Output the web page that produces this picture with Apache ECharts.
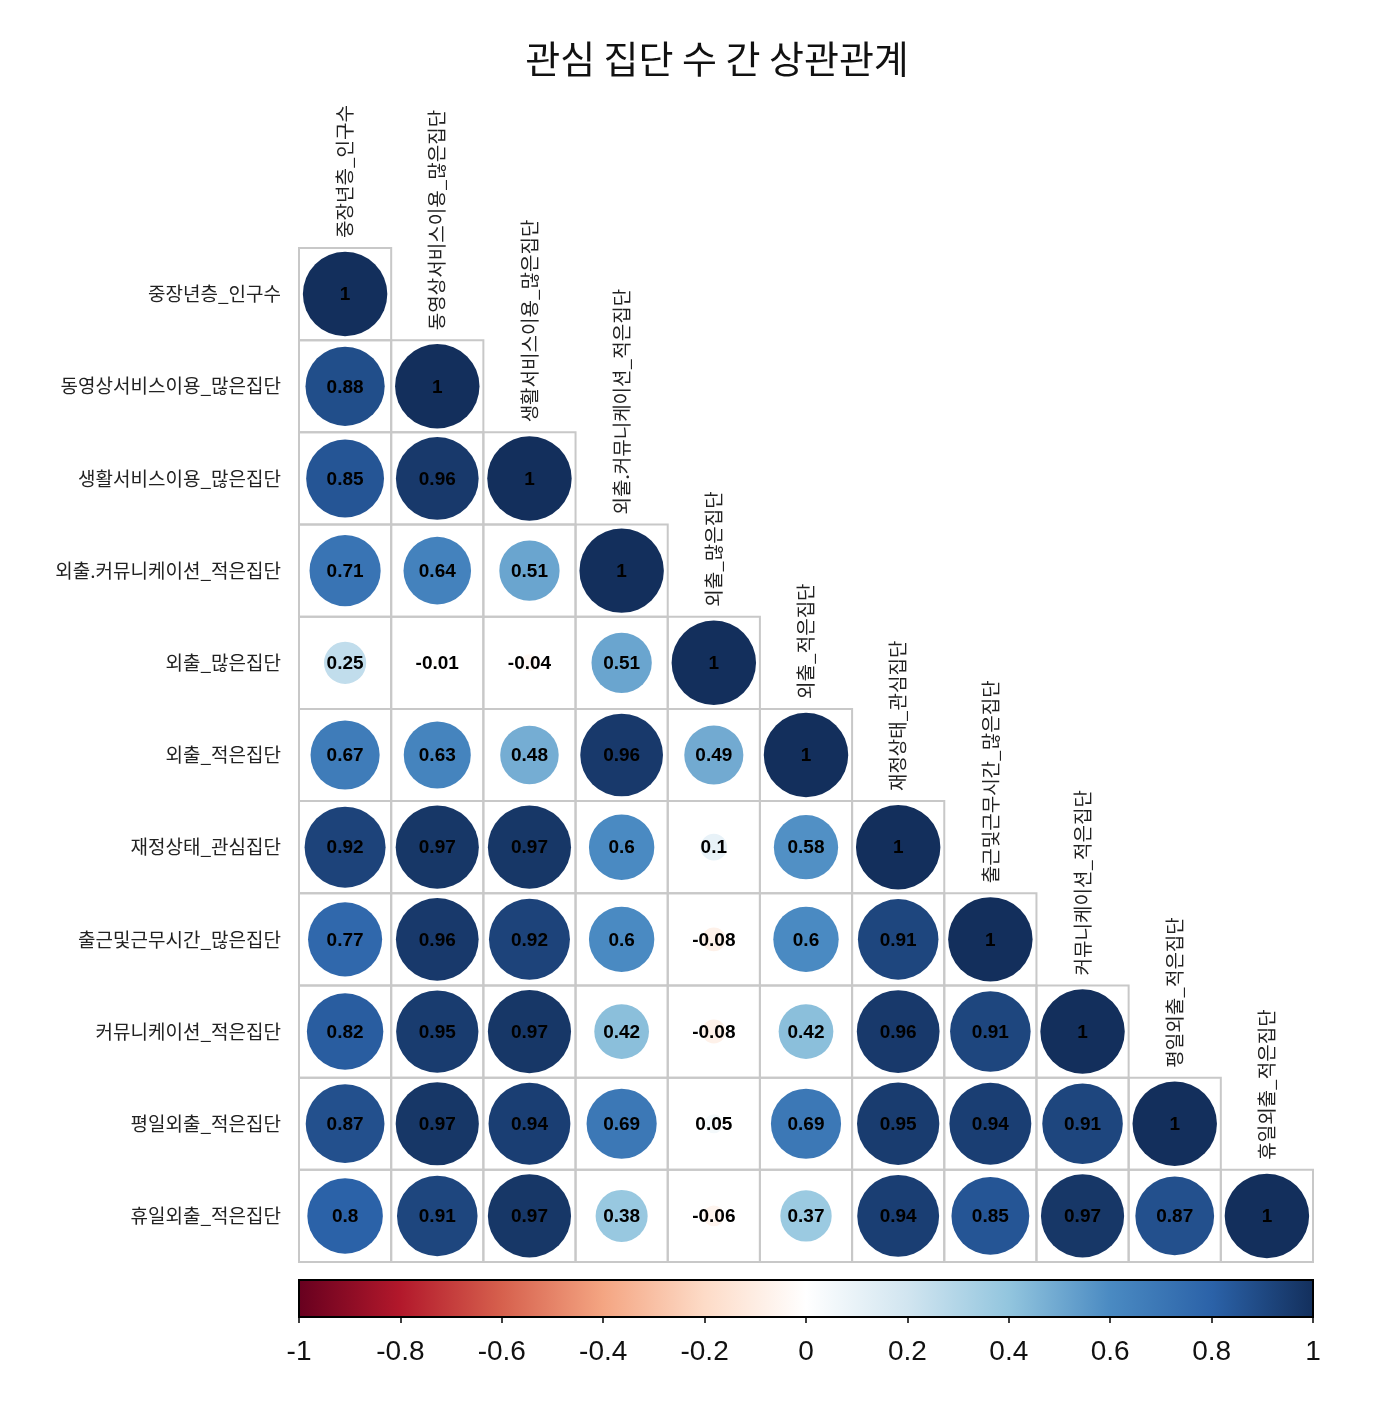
<!DOCTYPE html>
<html>
<head>
<meta charset="utf-8">
<script src="https://cdn.jsdelivr.net/npm/echarts@6/dist/echarts.min.js"></script>
<style>
html,body{margin:0;padding:0;background:#fff;}
#chart{width:1376px;height:1414px;}
</style>
</head>
<body>
<div id="chart"></div>
<script>
const titleText = '관심 집단 수 간 상관관계';
const labels = [
  '중장년층_인구수',
  '동영상서비스이용_많은집단',
  '생활서비스이용_많은집단',
  '외출.커뮤니케이션_적은집단',
  '외출_많은집단',
  '외출_적은집단',
  '재정상태_관심집단',
  '출근및근무시간_많은집단',
  '커뮤니케이션_적은집단',
  '평일외출_적은집단',
  '휴일외출_적은집단'
];
// lower triangle rows (row i has i+1 values, columns 0..i)
const row0 = [1];
const row1 = [0.88, 1];
const row2 = [0.85, 0.96, 1];
const row3 = [0.71, 0.64, 0.51, 1];
const row4 = [0.25, -0.01, -0.04, 0.51, 1];
const row5 = [0.67, 0.63, 0.48, 0.96, 0.49, 1];
const row6 = [0.92, 0.97, 0.97, 0.6, 0.1, 0.58, 1];
const row7 = [0.77, 0.96, 0.92, 0.6, -0.08, 0.6, 0.91, 1];
const row8 = [0.82, 0.95, 0.97, 0.42, -0.08, 0.42, 0.96, 0.91, 1];
const row9 = [0.87, 0.97, 0.94, 0.69, 0.05, 0.69, 0.95, 0.94, 0.91, 1];
const row10 = [0.8, 0.91, 0.97, 0.38, -0.06, 0.37, 0.94, 0.85, 0.97, 0.87, 1];
const corrRows = [row0,row1,row2,row3,row4,row5,row6,row7,row8,row9,row10];

const colorbarMin = -1, colorbarMax = 1, colorbarStep = 0.2;
const paletteValues = [-1, -0.8, -0.6, -0.4, -0.2, 0, 0.2, 0.4, 0.6, 0.8, 1];
const paletteColors = ['#67001F','#B2182B','#D6604D','#F4A582','#FDDBC7','#FFFFFF','#D1E5F0','#92C5DE','#4A8AC2','#2B62A8','#132F5C'];

function hex2rgb(h){h=h.replace('#','');return [parseInt(h.substr(0,2),16),parseInt(h.substr(2,2),16),parseInt(h.substr(4,2),16)];}
function colorFor(v){
  v = Math.max(-1, Math.min(1, v));
  for (let k=0;k<paletteValues.length-1;k++){
    const a=paletteValues[k], b=paletteValues[k+1];
    if (v>=a && v<=b){
      const t=(v-a)/(b-a);
      const c1=hex2rgb(paletteColors[k]), c2=hex2rgb(paletteColors[k+1]);
      const c=c1.map((x,idx)=>Math.round(x+(c2[idx]-x)*t));
      return 'rgb('+c.join(',')+')';
    }
  }
  return paletteColors[paletteColors.length-1];
}
function fmt(v){ return String(Math.round(v*100)/100); }

const cellData = [];
corrRows.forEach((row,i)=>row.forEach((r,j)=>cellData.push([j,i,r])));
const diagData = labels.map((l,i)=>[i,i,l]);

const chart = echarts.init(document.getElementById('chart'), null, {renderer:'canvas'});
const numFont = "bold 19px 'Liberation Sans', Arial, sans-serif";
const krFont = "'Noto Sans CJK KR', 'Noto Sans', sans-serif";

const option = {
  backgroundColor:'#ffffff',
  animation:false,
  title:{
    text:titleText, left:712, top:35, textAlign:'center',
    textStyle:{fontFamily:krFont, fontSize:38, fontWeight:'normal', color:'#111'}
  },
  grid:[
    {left:299, top:248, width:1014, height:1014},
    {left:299, top:1280, width:1014, height:37}
  ],
  xAxis:[
    {gridIndex:0, type:'category', data:labels, show:false},
    {gridIndex:1, type:'value', min:colorbarMin, max:colorbarMax, interval:colorbarStep,
     axisLine:{show:false}, splitLine:{show:false},
     axisTick:{show:true, length:6, lineStyle:{color:'#000', width:1.5}},
     axisLabel:{fontSize:28, color:'#111', margin:21, fontFamily:"'Liberation Sans', Arial, sans-serif"}}
  ],
  yAxis:[
    {gridIndex:0, type:'category', data:labels, inverse:true,
     axisLine:{show:false}, axisTick:{show:false}, splitLine:{show:false},
     axisLabel:{fontSize:19, color:'#222', margin:18, fontFamily:krFont}},
    {gridIndex:1, type:'value', min:0, max:1, show:false}
  ],
  series:[
    {
      type:'custom', xAxisIndex:0, yAxisIndex:0, data:cellData, z:1,
      renderItem:function(params, api){
        const c = api.coord([api.value(0), api.value(1)]);
        const s = api.size([1,1]);
        return {type:'rect', shape:{x:c[0]-s[0]/2, y:c[1]-s[1]/2, width:s[0], height:s[1]},
          style:{fill:null, stroke:'#c8c8c8', lineWidth:2}};
      }
    },
    {
      type:'custom', xAxisIndex:0, yAxisIndex:0, data:cellData, z:2,
      renderItem:function(params, api){
        const c = api.coord([api.value(0), api.value(1)]);
        const s = api.size([1,1]);
        const r = api.value(2);
        const rad = Math.sqrt(Math.abs(r))*0.458*s[0];
        return {type:'group', children:[
          {type:'circle', shape:{cx:c[0], cy:c[1], r:rad}, style:{fill:colorFor(r)}},
          {type:'text', x:c[0], y:c[1]+1, style:{text:fmt(r), font:numFont, fill:'#000', align:'center', verticalAlign:'middle'}}
        ]};
      }
    },
    {
      type:'custom', xAxisIndex:0, yAxisIndex:0, data:diagData, z:3,
      renderItem:function(params, api){
        const idx = params.dataIndex;
        const c = api.coord([idx, idx]);
        const s = api.size([1,1]);
        return {type:'text', x:c[0], y:c[1]-s[1]/2-10, rotation:Math.PI/2,
          style:{text:labels[idx], font:"19px "+krFont, fill:'#222', align:'left', verticalAlign:'middle'}};
      }
    },
    {
      type:'custom', xAxisIndex:1, yAxisIndex:1, data:[[colorbarMin, colorbarMax]], z:2,
      renderItem:function(params, api){
        const a = api.coord([api.value(0), 1]);
        const b = api.coord([api.value(1), 0]);
        const stops = paletteValues.map((v,k)=>({offset:(v-colorbarMin)/(colorbarMax-colorbarMin), color:paletteColors[k]}));
        return {type:'rect', shape:{x:a[0], y:a[1], width:b[0]-a[0], height:b[1]-a[1]},
          style:{fill:new echarts.graphic.LinearGradient(0,0,1,0,stops), stroke:'#000', lineWidth:2}};
      }
    }
  ]
};
chart.setOption(option);
</script>
</body>
</html>
